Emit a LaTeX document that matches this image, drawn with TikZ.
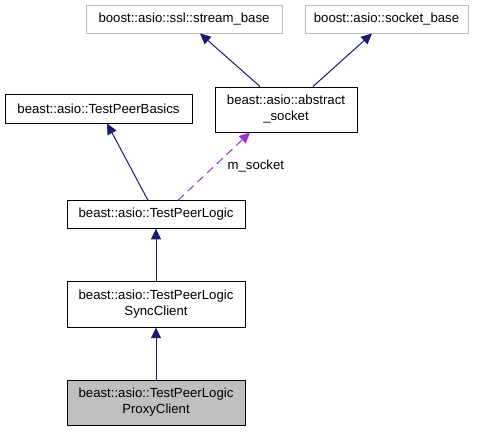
\documentclass[tikz,border=0pt]{standalone}
\usepackage{fontspec}
\setmainfont{Liberation Sans}
\usetikzlibrary{arrows.meta}
\definecolor{edgeblue}{HTML}{191970}
\definecolor{edgepurple}{HTML}{9A32CD}
\definecolor{extgray}{HTML}{BFBFBF}
\begin{document}
\begin{tikzpicture}[x=0.75pt,y=-0.75pt,
  cls/.style={draw=black,line width=0.75pt,fill=white,inner sep=0pt,align=center,
    font=\fontsize{9.9pt}{12pt}\selectfont},
  ext/.style={cls,draw=extgray},
  inh/.style={draw=edgeblue,line width=0.75pt,-{Triangle[length=8pt,width=7.5pt,fill=edgeblue]}},
  use/.style={draw=edgepurple,line width=0.75pt,dash pattern=on 6pt off 4pt,-{Triangle[length=8pt,width=7.5pt,fill=edgepurple]}}]
\useasboundingbox (0,0) rectangle (479,432);
\node[ext,minimum width=147pt,minimum height=21pt] (stream) at (184,19) {boost::asio::ssl::stream\_base};
\node[ext,minimum width=122.25pt,minimum height=21pt] (socket) at (386.5,19) {boost::asio::socket\_base};
\node[cls,minimum width=106.5pt,minimum height=33.75pt] (abstract) at (286,109.5) {beast::asio::abstract\\\_socket};
\node[cls,minimum width=140.25pt,minimum height=21.75pt] (basics) at (98.5,108.5) {beast::asio::TestPeerBasics};
\node[cls,minimum width=133.5pt,minimum height=20.5pt] (logic) at (156,214.5) {beast::asio::TestPeerLogic};
\node[cls,minimum width=133.5pt,minimum height=34.5pt] (sync) at (156,304) {beast::asio::TestPeerLogic\\SyncClient};
\node[cls,fill=extgray,minimum width=133.5pt,minimum height=33.75pt] (proxy) at (156,402.5) {beast::asio::TestPeerLogic\\ProxyClient};
\draw[inh] ([xshift=-19.5pt]abstract.north) -- ([xshift=12pt]stream.south);
\draw[inh] ([xshift=20.25pt]abstract.north) -- ([xshift=-10.9pt]socket.south);
\draw[inh] ([xshift=-6pt]logic.north) -- ([xshift=6.4pt]basics.south);
\draw[use] ([xshift=16.5pt]logic.north) -- ([xshift=-27pt]abstract.south)
  node[pos=0.5,right=6.5pt,font=\fontsize{9.9pt}{12pt}\selectfont] (lbl) {m\_socket};
\draw[inh] (sync.north) -- (logic.south);
\draw[inh] (proxy.north) -- (sync.south);
\end{tikzpicture}
\end{document}
